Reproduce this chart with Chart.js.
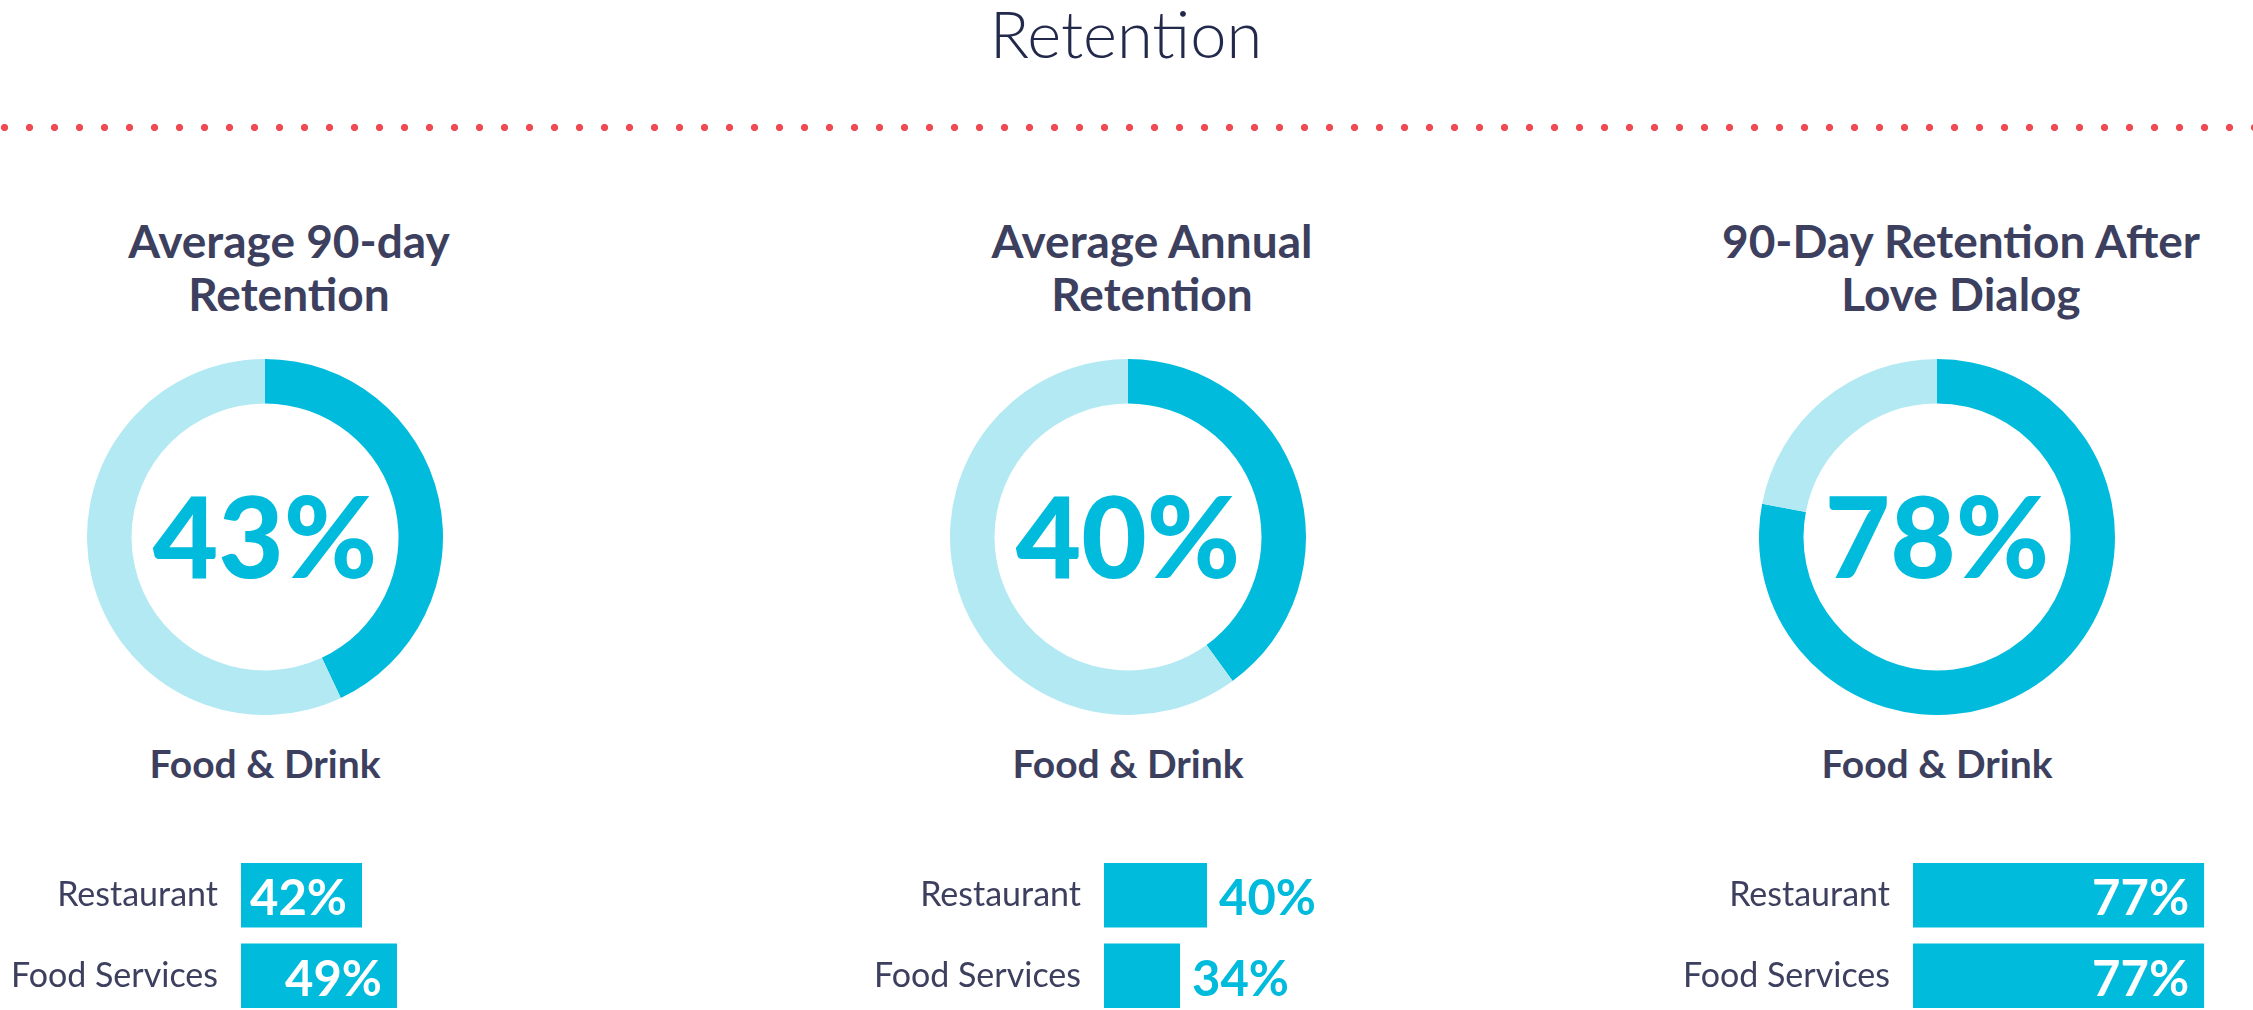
<!DOCTYPE html>
<html>
<head>
<meta charset="utf-8">
<script src="https://cdn.jsdelivr.net/npm/chart.js@4.4.1/dist/chart.umd.min.js"></script>
<style>
  html, body { margin: 0; padding: 0; background: #fff; overflow: hidden; }
  #page { position: relative; width: 2253px; height: 1010px; overflow: hidden; font-family: Lato, "Noto Sans", sans-serif; }
  .abs { position: absolute; }
  #mainTitle { left: 826px; width: 600px; top: -6px; text-align: center; font-weight: 300; font-size: 65px; line-height: 1.2; color: #22294b; }
  #dots { left: 0; top: 123px; width: 2253px; height: 9px;
    background-image: radial-gradient(circle at center, #ee4b55 3.3px, rgba(238,75,85,0) 3.9px);
    background-size: 25px 9px; background-position: -8px 0; background-repeat: repeat-x; }
  .ptitle { width: 640px; text-align: center; font-weight: 700; font-size: 46px; line-height: 53px; color: #3d3f5e; top: 214px; }
  .sub { width: 400px; text-align: center; font-weight: 700; font-size: 39px; line-height: 1.2; color: #3d3f5e; top: 740px; }
</style>
</head>
<body>
<div id="page">
  <div id="mainTitle" class="abs">Retention</div>
  <div id="dots" class="abs"></div>
</div>
<script>
// data
const panelTitles = [
  ['Average 90-day', 'Retention'],
  ['Average Annual', 'Retention'],
  ['90-Day Retention After', 'Love Dialog']
];
const overallLabel = 'Food & Drink';
const overallValues = [43, 40, 78];
const segmentCategories = ['Restaurant', 'Food Services'];
const restaurantValues = [42, 40, 77];
const foodServicesValues = [49, 34, 77];
// the bar rows of each panel are drawn on their own axis range
const barAxisMin = [17.8, 17.1, 17];
const barAxisMax = [99.4, 107.8, 101.1];

// layout
const centers = [265, 1128, 1937];
const donutCY = 537;
const donutSize = 356;
const labelW = 240;
const barAreaW = 408;
const barTop = 855;
const barH = 161;

const CYAN = '#00bbdc';
const LIGHT = '#b3e9f3';
const INK = '#3d3f5e';

const page = document.getElementById('page');

const centerText = {
  id: 'centerText',
  afterDraw(chart) {
    const ctx = chart.ctx;
    const a = chart.chartArea;
    const v = chart.data.datasets[0].data[0];
    ctx.save();
    ctx.font = '900 113px Lato';
    ctx.fillStyle = CYAN;
    ctx.textAlign = 'center';
    ctx.textBaseline = 'alphabetic';
    ctx.fillText(v + '%', (a.left + a.right) / 2, (a.top + a.bottom) / 2 + 41);
    ctx.restore();
  }
};

const barValues = {
  id: 'barValues',
  afterDatasetsDraw(chart) {
    const ctx = chart.ctx;
    const ds = chart.data.datasets[0];
    const left = chart.chartArea.left;
    ctx.save();
    ctx.font = '700 49px Lato';
    ctx.textBaseline = 'alphabetic';
    chart.getDatasetMeta(0).data.forEach((bar, i) => {
      const txt = ds.data[i] + '%';
      const tw = ctx.measureText(txt).width;
      // bars are clipped at the chart area, so measure the visible part
      const w = bar.x - Math.max(bar.base, left);
      if (tw + 22 <= w) {
        ctx.fillStyle = '#fff';
        ctx.textAlign = 'right';
        ctx.fillText(txt, bar.x - 15, bar.y + 20);
      } else {
        ctx.fillStyle = CYAN;
        ctx.textAlign = 'left';
        ctx.fillText(txt, bar.x + 12, bar.y + 20);
      }
    });
    ctx.restore();
  }
};

function addCanvas(left, top, w, h) {
  const c = document.createElement('canvas');
  c.width = w; c.height = h;
  c.className = 'abs';
  c.style.left = left + 'px';
  c.style.top = top + 'px';
  c.style.width = w + 'px';
  c.style.height = h + 'px';
  page.appendChild(c);
  return c;
}

centers.forEach((cx, p) => {
  const t = document.createElement('div');
  t.className = 'abs ptitle';
  t.style.left = (cx + 24 - 320) + 'px';
  t.innerHTML = panelTitles[p].join('<br>');
  page.appendChild(t);

  const s = document.createElement('div');
  s.className = 'abs sub';
  s.style.left = (cx - 200) + 'px';
  s.textContent = overallLabel;
  page.appendChild(s);

  const dc = addCanvas(cx - donutSize / 2, donutCY - donutSize / 2, donutSize, donutSize);
  new Chart(dc, {
    type: 'doughnut',
    data: {
      labels: ['Retained', 'Lost'],
      datasets: [{
        data: [overallValues[p], 100 - overallValues[p]],
        backgroundColor: [CYAN, LIGHT],
        borderWidth: 0
      }]
    },
    options: {
      responsive: false,
      animation: false,
      cutout: '75%',
      plugins: { legend: { display: false }, tooltip: { enabled: false } }
    },
    plugins: [centerText]
  });

  const barStart = cx - 24;
  const bc = addCanvas(barStart - labelW, barTop, labelW + barAreaW, barH);
  new Chart(bc, {
    type: 'bar',
    data: {
      labels: segmentCategories,
      datasets: [{
        data: [restaurantValues[p], foodServicesValues[p]],
        backgroundColor: CYAN,
        borderWidth: 0,
        barPercentage: 0.8,
        categoryPercentage: 1
      }]
    },
    options: {
      indexAxis: 'y',
      responsive: false,
      animation: false,
      layout: { padding: 0 },
      scales: {
        x: { display: false, min: barAxisMin[p], max: barAxisMax[p] },
        y: {
          grid: { display: false, drawTicks: false },
          border: { display: false },
          ticks: { autoSkip: false, padding: 23, color: INK, font: { family: 'Lato', size: 34, weight: '400' } },
          afterFit(scale) {
            scale.width = labelW;
            scale.paddingTop = 0;
            scale.paddingBottom = 0;
          }
        }
      },
      plugins: { legend: { display: false }, tooltip: { enabled: false } }
    },
    plugins: [barValues]
  });
});
</script>
</body>
</html>
